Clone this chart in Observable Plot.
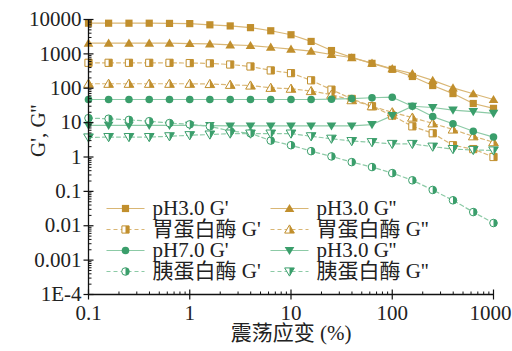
<!DOCTYPE html>
<html><head><meta charset="utf-8">
<script src="https://cdn.jsdelivr.net/npm/d3@7"></script>
<script src="https://cdn.jsdelivr.net/npm/@observablehq/plot@0.6"></script>
<style>body{margin:0;background:#fff}</style>
</head><body><div id="chart"></div>
<script>
// ---- data ----
const strain = [0.1, 0.158, 0.251, 0.398, 0.631, 1, 1.58, 2.51, 3.98, 6.31, 10, 15.8, 25.1, 39.8, 63.1, 100, 158, 251, 398, 631, 1000];
const pH3Gp   = [7800,7800,7800,7800,7700,7600,7000,6500,5800,4700,3600,2300,1250,790,530,355,220,120,70,36,26];
const pH3Gpp  = [2050,2050,2050,2050,2050,2000,1950,1830,1750,1560,1380,1200,960,770,540,370,265,170,103,69,47];
const pepGp   = [550,550,550,550,550,540,530,490,430,330,275,170,91,49,30,16,7.8,4.9,2.2,1.7,1.0];
const pepGpp  = [135,135,135,135,135,135,133,126,120,103,97,83,65,45,30,20,14,9.5,6.3,4.0,2.7];
const pH7Gp   = [47,47,47,47,47,47,47,47,47,47,47,47,48,50,53,55,30,15,9.3,5.6,3.8];
const pH3Gpp2 = [8.3,8.3,8.3,8.3,8.3,8.3,8.2,8.0,8.0,8.0,8.0,8.0,8.0,8.0,8.8,16,30,27.5,23,21,18.5];
const tryGp   = [13.5,13,12,11,9.7,8.9,7.8,5.7,4.9,3.0,2.2,1.48,1.04,0.71,0.51,0.34,0.21,0.11,0.055,0.025,0.012];
const tryGpp  = [3.7,3.8,3.8,3.8,4.0,4.3,4.5,4.8,4.8,4.8,4.8,4.0,3.4,2.9,2.7,2.4,2.4,2.0,1.7,1.6,1.55];
const seriesLabels = ["pH3.0 G'", "pH3.0 G''", "胃蛋白酶 G'", "胃蛋白酶 G''", "pH7.0 G'", "pH3.0 G''", "胰蛋白酶 G'", "胰蛋白酶 G''"];
const yTickValues = [1e-4, 0.001, 0.01, 0.1, 1, 10, 100, 1000, 10000];
const yTickLabels = ["1E-4", "0.001", "0.01", "0.1", "1", "10", "100", "1000", "10000"];
const xTickValues = [0.1, 1, 10, 100, 1000];
const xTickLabels = ["0.1", "1", "10", "100", "1000"];
const xTitle = "震荡应变 (%)";
const yTitle = "G', G''";

// ---- styling ----
const GOLD = "#c18f2d", GOLD_LINE = "#d9b674";
const GREEN = "#3a9e6b", GREEN_LINE = "#8ccaa6";
const FONT = "'Liberation Serif','Times New Roman','Noto Sans CJK SC',serif";

const sym = (fn) => ({draw(c, size) { fn(c, Math.sqrt(size / Math.PI)); }});
const SQ = sym((c, r) => c.rect(-r, -r, 2 * r, 2 * r));
const SQR = sym((c, r) => c.rect(0, -r, r, 2 * r));
const TU = sym((c, r) => { c.moveTo(0, -1.1 * r); c.lineTo(1.15 * r, 0.85 * r); c.lineTo(-1.15 * r, 0.85 * r); c.closePath(); });
const TUR = sym((c, r) => { c.moveTo(0, -1.1 * r); c.lineTo(1.15 * r, 0.85 * r); c.lineTo(0, 0.85 * r); c.closePath(); });
const TD = sym((c, r) => { c.moveTo(-1.15 * r, -0.85 * r); c.lineTo(1.15 * r, -0.85 * r); c.lineTo(0, 1.1 * r); c.closePath(); });
const TDR = sym((c, r) => { c.moveTo(0, -0.85 * r); c.lineTo(1.15 * r, -0.85 * r); c.lineTo(0, 1.1 * r); c.closePath(); });
const CI = sym((c, r) => { c.moveTo(r, 0); c.arc(0, 0, r, 0, 2 * Math.PI); });
const CIR = sym((c, r) => { c.moveTo(0, -r); c.arc(0, 0, r, -Math.PI / 2, Math.PI / 2); c.closePath(); });
const HLINE = {draw(c) { c.moveTo(-19, 0); c.lineTo(19, 0); }};
const XMAJ = {draw(c) { c.moveTo(0, -5); c.lineTo(0, 5); }};
const XMIN = {draw(c) { c.moveTo(0, 0); c.lineTo(0, -3); }};
const YMAJ = {draw(c) { c.moveTo(-5, 0); c.lineTo(5, 0); }};
const YMIN = {draw(c) { c.moveTo(0, 0); c.lineTo(3, 0); }};

const seriesValues = [pH3Gp, pH3Gpp, pepGp, pepGpp, pH7Gp, pH3Gpp2, tryGp, tryGpp];
const styles = [
  {color: GOLD, line: GOLD_LINE, dash: null, symbol: SQ, half: null, r: 3.6},
  {color: GOLD, line: GOLD_LINE, dash: null, symbol: TU, half: null, r: 4.2},
  {color: GOLD, line: GOLD_LINE, dash: "4,3", symbol: SQ, half: SQR, r: 3.6},
  {color: GOLD, line: GOLD_LINE, dash: "4,3", symbol: TU, half: TUR, r: 4.2},
  {color: GREEN, line: GREEN_LINE, dash: null, symbol: CI, half: null, r: 3.8},
  {color: GREEN, line: GREEN_LINE, dash: null, symbol: TD, half: null, r: 4.2},
  {color: GREEN, line: GREEN_LINE, dash: "4,3", symbol: CI, half: CIR, r: 3.8},
  {color: GREEN, line: GREEN_LINE, dash: "4,3", symbol: TD, half: TDR, r: 4.2}
];

const xDomain = [0.1, 1000], yDomain = [1e-4, 10000];
const xMinor = d3.scaleLog().domain(xDomain).ticks().filter(v => !xTickValues.some(m => Math.abs(m - v) / m < 1e-6));
const yMinor = d3.scaleLog().domain(yDomain).ticks().filter(v => !yTickValues.some(m => Math.abs(m - v) / m < 1e-6));

const marks = [];
// data lines
seriesValues.forEach((vals, i) => {
  const s = styles[i];
  const rows = strain.map((x, j) => ({x, y: vals[j]}));
  marks.push(Plot.line(rows, {x: "x", y: "y", stroke: s.line, strokeWidth: 1.2, strokeDasharray: s.dash || undefined}));
});
// markers
seriesValues.forEach((vals, i) => {
  const s = styles[i];
  const rows = strain.map((x, j) => ({x, y: vals[j]}));
  if (s.half) {
    marks.push(Plot.dot(rows, {x: "x", y: "y", symbol: s.symbol, r: s.r, fill: "white", stroke: s.color, strokeWidth: 1}));
    marks.push(Plot.dot(rows, {x: "x", y: "y", symbol: s.half, r: s.r, fill: s.color, stroke: "none"}));
  } else {
    marks.push(Plot.dot(rows, {x: "x", y: "y", symbol: s.symbol, r: s.r, fill: s.color, stroke: "none"}));
  }
});
// axes
const lastX = xTickValues.length - 1;
marks.push(Plot.ruleY([yDomain[0]], {stroke: "#111", strokeWidth: 1.3}));
marks.push(Plot.ruleX([xDomain[0]], {stroke: "#111", strokeWidth: 1.3}));
marks.push(Plot.dot(xTickValues, {x: d => d, y: () => yDomain[0], symbol: XMAJ, stroke: "#111", strokeWidth: 1.2, fill: "none"}));
marks.push(Plot.dot(xMinor, {x: d => d, y: () => yDomain[0], symbol: XMIN, stroke: "#111", strokeWidth: 1, fill: "none"}));
marks.push(Plot.dot(yTickValues, {y: d => d, x: () => xDomain[0], symbol: YMAJ, stroke: "#111", strokeWidth: 1.2, fill: "none"}));
marks.push(Plot.dot(yMinor, {y: d => d, x: () => xDomain[0], symbol: YMIN, stroke: "#111", strokeWidth: 1, fill: "none"}));
marks.push(Plot.text(xTickValues.slice(0, lastX), {x: d => d, y: () => yDomain[0], text: (d, i) => xTickLabels[i], dy: 19, lineAnchor: "middle", fontSize: 21, fontFamily: FONT, fill: "#222"}));
marks.push(Plot.text([xTickValues[lastX]], {x: d => d, y: () => yDomain[0], text: () => xTickLabels[lastX], dy: 19, dx: 18, textAnchor: "end", lineAnchor: "middle", fontSize: 21, fontFamily: FONT, fill: "#222"}));
marks.push(Plot.text(yTickValues, {y: d => d, x: () => xDomain[0], text: (d, i) => yTickLabels[i], dx: -7, textAnchor: "end", lineAnchor: "middle", fontSize: 21, fontFamily: FONT, fill: "#222"}));
marks.push(Plot.text([xTitle], {frameAnchor: "bottom", dy: 39, lineAnchor: "middle", fontSize: 21, fontFamily: FONT, fill: "#222"}));
marks.push(Plot.text([yTitle], {frameAnchor: "left", dx: -50, rotate: -90, lineAnchor: "middle", fontSize: 21, fontFamily: FONT, fill: "#222"}));
// legend (inside, bottom-left)
seriesLabels.forEach((label, i) => {
  const s = styles[i];
  const col = i % 2, row = Math.floor(i / 2);
  const mx = col === 0 ? 37 : 201;
  const dy = -86 + row * 21;
  marks.push(Plot.dot([0], {frameAnchor: "bottom-left", dx: mx, dy, symbol: HLINE, stroke: s.line, strokeWidth: 1.2, strokeDasharray: s.dash || undefined, fill: "none"}));
  if (s.half) {
    marks.push(Plot.dot([0], {frameAnchor: "bottom-left", dx: mx, dy, symbol: s.symbol, r: s.r, fill: "white", stroke: s.color, strokeWidth: 1}));
    marks.push(Plot.dot([0], {frameAnchor: "bottom-left", dx: mx, dy, symbol: s.half, r: s.r, fill: s.color, stroke: "none"}));
  } else {
    marks.push(Plot.dot([0], {frameAnchor: "bottom-left", dx: mx, dy, symbol: s.symbol, r: s.r, fill: s.color, stroke: "none"}));
  }
  marks.push(Plot.text([label], {frameAnchor: "bottom-left", dx: mx + 27, dy, textAnchor: "start", lineAnchor: "middle", fontSize: 21, fontFamily: FONT, fill: "#222"}));
});

const chart = Plot.plot({
  width: 512, height: 351,
  marginTop: 19, marginRight: 19, marginBottom: 57, marginLeft: 88,
  x: {type: "log", domain: xDomain, axis: null},
  y: {type: "log", domain: yDomain, axis: null},
  style: {background: "white", fontFamily: FONT, overflow: "visible"},
  marks
});
document.getElementById("chart").appendChild(chart);
</script>
</body></html>
